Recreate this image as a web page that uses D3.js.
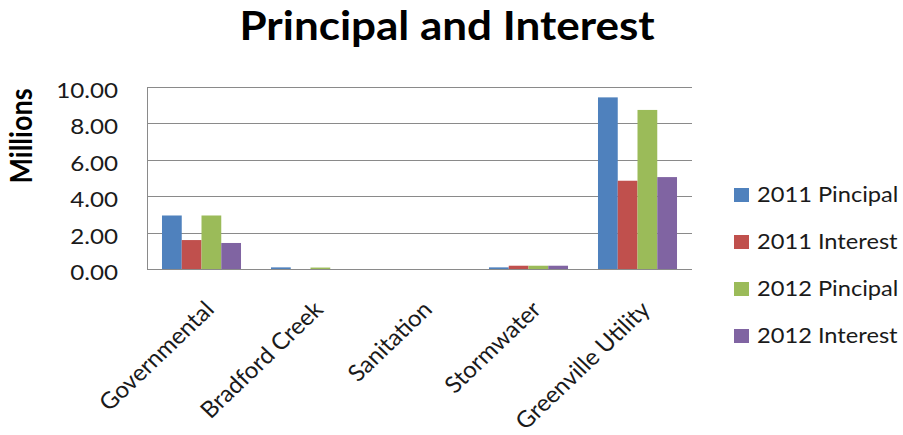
<!DOCTYPE html>
<html>
<head>
<meta charset="utf-8">
<script src="https://cdn.jsdelivr.net/npm/d3@7"></script>
<style>
  body { margin: 0; background: #fff; }
  text { font-family: Lato, "Open Sans", sans-serif; fill: #000; }
</style>
</head>
<body>
<div id="chart"></div>
<script>
var categories = ['Governmental', 'Bradford Creek', 'Sanitation', 'Stormwater', 'Greenville Utility'];
var seriesNames = ['2011 Pincipal', '2011 Interest', '2012 Pincipal', '2012 Interest'];
var principal2011 = [2.94, 0.09, 0, 0.09, 9.43];
var interest2011 = [1.59, 0, 0, 0.18, 4.85];
var principal2012 = [2.94, 0.08, 0, 0.18, 8.74];
var interest2012 = [1.43, 0, 0, 0.18, 5.05];
var yTicks = [0, 2, 4, 6, 8, 10];
var colors = ['#4f81bd', '#c0504d', '#9bbb59', '#8064a2'];

var seriesValues = [principal2011, interest2011, principal2012, interest2012];

var width = 903, height = 435;
var plot = {left: 147, right: 692, top: 87, bottom: 269};
var sx = 1.1; // the original chart is a bit wider than tall

var svg = d3.select('#chart').append('svg')
    .attr('width', width)
    .attr('height', height);

var x = d3.scaleBand()
    .domain(categories)
    .range([plot.left, plot.right])
    .paddingInner(0.275)
    .paddingOuter(0.1375);

var xs = d3.scaleBand()
    .domain(seriesNames)
    .range([0, x.bandwidth()]);

var y = d3.scaleLinear()
    .domain([0, 10])
    .range([plot.bottom, plot.top]);

// gridlines
svg.append('g')
    .selectAll('line')
    .data(yTicks)
    .enter().append('line')
    .attr('x1', plot.left)
    .attr('x2', plot.right)
    .attr('y1', function(d) { return Math.round(y(d)) + 0.5; })
    .attr('y2', function(d) { return Math.round(y(d)) + 0.5; })
    .attr('stroke', '#8a8a8a')
    .attr('stroke-width', 1);

// y axis line
svg.append('line')
    .attr('x1', plot.left + 0.5).attr('x2', plot.left + 0.5)
    .attr('y1', plot.top).attr('y2', plot.bottom + 1)
    .attr('stroke', '#8a8a8a');

// y tick labels
svg.append('g')
    .selectAll('text')
    .data(yTicks)
    .enter().append('text')
    .attr('transform', function(d) { return 'translate(118,' + (y(d) + 11) + ') scale(' + sx + ',1)'; })
    .attr('text-anchor', 'end')
    .style('font-size', '22px')
    .style('fill', '#1a1a1a')
    .text(function(d) { return d3.format('.2f')(d); });

// bars
var groups = svg.append('g')
    .selectAll('g')
    .data(seriesNames)
    .enter().append('g')
    .attr('fill', function(d, i) { return colors[i]; });

groups.selectAll('rect')
    .data(function(d, i) {
      return categories.map(function(c, j) { return {cat: c, s: d, v: seriesValues[i][j]}; });
    })
    .enter().append('rect')
    .attr('x', function(d) { return x(d.cat) + xs(d.s); })
    .attr('width', xs.bandwidth())
    .attr('y', function(d) { return y(d.v); })
    .attr('height', function(d) { return y(0) - y(d.v); });

// x labels
svg.append('g')
    .selectAll('text')
    .data(categories)
    .enter().append('text')
    .attr('transform', function(d) {
      return 'translate(' + (x(d) + x.bandwidth() / 2 + 14) + ',311) scale(1.05,1) rotate(-45)';
    })
    .attr('text-anchor', 'end')
    .style('font-size', '23px')
    .style('fill', '#1a1a1a')
    .text(function(d) { return d; });

// title
svg.append('text')
    .attr('transform', 'translate(447,40) scale(' + sx + ',1)')
    .attr('text-anchor', 'middle')
    .style('font-size', '40px')
    .style('font-weight', 'bold')
    .text('Principal and Interest');

// y axis title
svg.append('text')
    .attr('transform', 'translate(32,136) scale(' + sx + ',1) rotate(-90)')
    .attr('text-anchor', 'middle')
    .style('font-size', '27px')
    .style('font-weight', 'bold')
    .text('Millions');

// legend
var legend = svg.append('g')
    .selectAll('g')
    .data(seriesNames)
    .enter().append('g')
    .attr('transform', function(d, i) { return 'translate(734,' + (195 + i * 47) + ')'; });

legend.append('rect')
    .attr('x', 0).attr('y', -7)
    .attr('width', 15).attr('height', 14)
    .attr('fill', function(d, i) { return colors[i]; });

legend.append('text')
    .attr('transform', 'translate(23,7) scale(' + sx + ',1)')
    .style('font-size', '21.5px')
    .style('fill', '#1a1a1a')
    .text(function(d) { return d; });
</script>
</body>
</html>
